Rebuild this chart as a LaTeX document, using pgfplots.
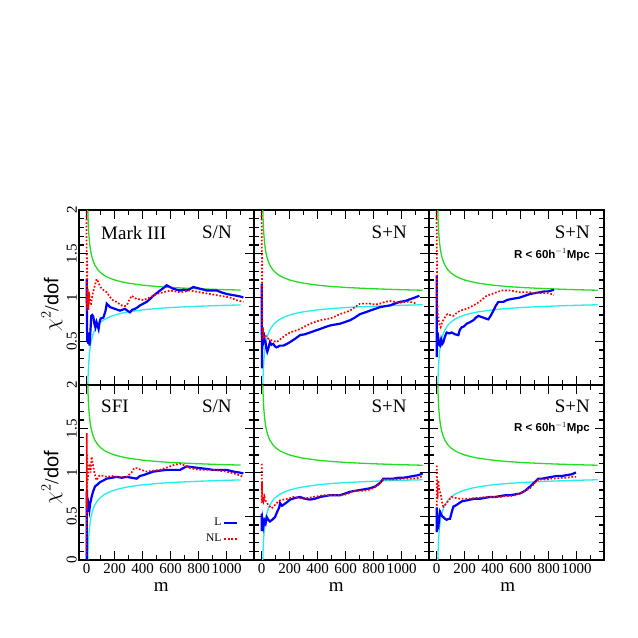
\documentclass[border=0pt]{standalone}
\usepackage{fontspec}
\setmainfont{Liberation Serif}
\setsansfont{Liberation Sans}
\usepackage{pgfplots}
\usepackage{pgfplotstable}
\pgfplotsset{compat=1.18}
\usepgfplotslibrary{groupplots}
\definecolor{grn}{HTML}{22DD22}
\definecolor{cyn}{HTML}{22EEEE}

\pgfplotsset{
  bl/.style={blue, line width=2.2pt},
  rd/.style={red, line width=1.7pt, dash pattern=on 1.7pt off 1.8pt},
  gr/.style={color=grn, line width=1.3pt, forget plot},
  cy/.style={color=cyn, line width=1.3pt, forget plot},
}

% 2 sigma band of chi^2/dof
\pgfplotstableread{
m y
7 2.069
8 2.000
9 1.943
10 1.894
12 1.816
15 1.730
20 1.632
25 1.566
30 1.516
40 1.447
50 1.400
60 1.365
80 1.316
100 1.283
130 1.248
160 1.224
200 1.200
250 1.179
300 1.163
400 1.141
500 1.126
600 1.115
700 1.107
800 1.100
900 1.094
1000 1.089
1100 1.085
1150 1.083
}\greentab
\pgfplotstableread{
m y
8 0.000
9 0.057
10 0.106
12 0.184
15 0.270
20 0.368
25 0.434
30 0.484
40 0.553
50 0.600
60 0.635
80 0.684
100 0.717
130 0.752
160 0.776
200 0.800
250 0.821
300 0.837
400 0.859
500 0.874
600 0.885
700 0.893
800 0.900
900 0.906
1000 0.911
1100 0.915
1150 0.917
}\cyantab

% Mark III, S/N
\pgfplotstableread{
m y
0 1.21
2 0.70
4 0.49
8 0.60
12 0.47
16 0.57
20 0.45
26 0.60
33 0.79
40 0.80
47 0.78
55 0.70
62 0.66
70 0.72
78 0.68
85 0.64
92 0.72
100 0.76
119 0.77
135 0.85
143 0.93
155 0.91
167 0.89
185 0.88
202 0.87
220 0.86
238 0.85
255 0.86
274 0.87
290 0.85
309 0.83
325 0.86
345 0.87
365 0.89
381 0.91
405 0.93
428 0.95
450 0.98
476 1.02
500 1.05
524 1.08
550 1.11
571 1.14
595 1.12
619 1.10
640 1.09
667 1.08
690 1.09
714 1.08
740 1.10
762 1.12
785 1.11
809 1.10
835 1.09
857 1.08
890 1.08
929 1.08
960 1.06
1000 1.04
1035 1.03
1071 1.02
1100 1.01
1119 1.00
}\aL
\pgfplotstableread{
m y
-2 2.10
0 1.40
1 0.85
3 1.45
5 0.90
8 1.10
12 0.86
16 1.00
19 1.02
24 0.95
30 0.91
38 1.00
45 1.06
52 1.10
59 1.14
65 1.18
71 1.21
77 1.20
83 1.17
95 1.13
107 1.10
125 1.08
143 1.06
160 1.02
179 0.98
195 0.96
214 0.95
230 0.93
250 0.91
270 0.90
286 0.91
300 0.96
321 1.02
340 1.00
357 0.98
380 0.98
405 0.97
430 0.99
452 1.00
475 1.02
500 1.04
525 1.05
547 1.06
570 1.07
595 1.08
630 1.07
667 1.06
700 1.07
738 1.08
775 1.07
809 1.06
845 1.05
881 1.04
915 1.03
952 1.02
990 1.01
1024 1.00
1070 0.97
1119 0.95
}\aNL

% Mark III, S+N
\pgfplotstableread{
m y
0 1.16
1 0.60
2 0.19
4 0.55
8 0.45
14 0.60
20 0.52
26 0.50
33 0.42
40 0.38
48 0.42
59 0.49
70 0.46
83 0.47
95 0.44
107 0.43
130 0.45
155 0.45
180 0.47
202 0.49
240 0.53
274 0.57
310 0.58
345 0.60
380 0.62
417 0.64
450 0.66
488 0.68
520 0.69
559 0.70
595 0.72
631 0.74
665 0.77
702 0.81
740 0.83
774 0.85
810 0.87
845 0.89
880 0.90
917 0.91
950 0.93
988 0.95
1025 0.96
1060 0.98
1095 1.00
1126 1.02
}\bL
\pgfplotstableread{
m y
-2 2.10
1 1.60
3 1.00
5 0.60
7 0.53
10 0.66
15 0.55
24 0.57
35 0.55
47 0.53
60 0.52
71 0.51
90 0.50
107 0.49
130 0.52
155 0.55
180 0.58
202 0.60
240 0.62
274 0.64
310 0.67
345 0.70
380 0.72
417 0.74
450 0.75
488 0.76
520 0.78
559 0.81
595 0.83
631 0.85
665 0.89
702 0.93
740 0.93
774 0.93
810 0.92
845 0.93
880 0.95
917 0.96
950 0.95
988 0.94
1025 0.95
1060 0.95
1085 0.94
1107 0.93
}\bNL

% Mark III, S+N, R < 60
\pgfplotstableread{
m y
0 1.25
1 0.32
3 0.60
6 0.48
12 0.53
18 0.46
24 0.45
32 0.52
40 0.47
48 0.49
58 0.55
71 0.60
90 0.59
107 0.60
130 0.58
155 0.57
165 0.63
179 0.66
195 0.67
214 0.70
240 0.72
262 0.74
280 0.77
298 0.79
315 0.78
333 0.77
350 0.76
369 0.75
385 0.79
405 0.85
420 0.90
440 0.95
458 0.95
476 0.95
500 0.97
524 0.98
560 0.99
595 1.00
630 1.02
667 1.04
700 1.05
738 1.06
770 1.07
798 1.07
820 1.08
838 1.09
}\cL
\pgfplotstableread{
m y
-2 2.10
1 1.50
4 0.95
8 0.80
12 0.79
16 0.72
22 0.68
28 0.66
35 0.70
42 0.73
52 0.75
64 0.79
76 0.81
95 0.80
119 0.79
140 0.82
167 0.85
190 0.86
214 0.87
250 0.90
286 0.93
320 0.97
357 1.02
393 1.04
428 1.06
464 1.08
494 1.08
524 1.08
560 1.07
595 1.06
630 1.06
667 1.06
700 1.05
738 1.05
770 1.05
798 1.05
820 1.04
838 1.03
}\cNL

% SFI, S/N
\pgfplotstableread{
m y
0 0.00
1 0.78
2 0.80
4 0.62
6 0.61
10 0.55
14 0.62
19 0.57
25 0.65
30 0.68
35 0.72
45 0.78
59 0.84
75 0.86
95 0.89
120 0.91
143 0.93
180 0.94
214 0.95
250 0.94
286 0.95
320 0.94
357 0.93
380 0.96
405 0.97
440 0.99
476 1.01
520 1.02
571 1.03
620 1.03
667 1.03
690 1.05
714 1.07
760 1.06
809 1.05
860 1.04
905 1.03
950 1.03
1000 1.03
1050 1.01
1090 1.00
1119 0.99
}\dL
\pgfplotstableread{
m y
-1 0.05
1 1.45
2 0.60
4 1.20
7 0.90
11 0.99
16 1.05
23 1.10
28 1.00
35 1.18
41 1.12
47 1.07
55 1.00
63 0.95
71 0.91
83 0.95
95 0.97
120 0.96
143 0.95
180 0.96
214 0.95
250 0.95
286 0.95
320 1.00
340 1.05
357 1.05
390 1.03
428 1.01
470 1.02
524 1.03
560 1.05
595 1.07
630 1.09
667 1.10
700 1.08
738 1.05
770 1.04
809 1.03
860 1.03
905 1.03
950 1.02
1000 1.01
1050 0.99
1090 0.97
1119 0.95
}\dNL

% SFI, S+N
\pgfplotstableread{
m y
0 0.33
1 0.53
3 0.38
6 0.45
12 0.38
20 0.45
28 0.42
36 0.49
47 0.46
59 0.44
75 0.46
95 0.49
110 0.55
125 0.60
131 0.65
145 0.62
155 0.63
180 0.66
202 0.69
240 0.71
274 0.72
310 0.70
345 0.69
380 0.70
417 0.72
450 0.73
488 0.74
520 0.74
559 0.74
595 0.76
631 0.78
665 0.79
702 0.80
740 0.81
774 0.82
810 0.84
845 0.88
869 0.93
900 0.93
940 0.93
975 0.94
1012 0.94
1050 0.95
1083 0.96
1120 0.97
1150 0.99
}\eL
\pgfplotstableread{
m y
0 1.10
1 0.65
2 0.90
4 0.65
8 0.75
14 0.68
20 0.72
24 0.69
35 0.66
47 0.63
59 0.61
71 0.59
90 0.62
107 0.65
130 0.68
155 0.69
190 0.70
226 0.72
260 0.71
298 0.70
330 0.71
369 0.72
405 0.73
440 0.74
475 0.74
512 0.74
548 0.74
583 0.74
620 0.76
655 0.79
690 0.79
726 0.79
760 0.80
798 0.82
835 0.86
869 0.92
900 0.92
940 0.92
975 0.92
1012 0.93
1050 0.93
1083 0.93
1120 0.94
1150 0.96
}\eNL

% SFI, S+N, R < 60
\pgfplotstableread{
m y
0 0.32
1 0.60
3 0.46
6 0.40
12 0.38
18 0.48
24 0.55
32 0.52
40 0.50
48 0.49
60 0.47
71 0.46
85 0.47
95 0.47
108 0.55
119 0.61
143 0.63
160 0.65
179 0.67
210 0.68
238 0.69
275 0.70
310 0.70
345 0.71
381 0.72
415 0.72
452 0.73
490 0.74
524 0.74
560 0.75
595 0.76
630 0.79
667 0.84
700 0.89
726 0.93
755 0.93
786 0.94
820 0.95
857 0.96
895 0.96
929 0.97
965 0.98
995 1.00
}\fL
\pgfplotstableread{
m y
0 1.08
1 0.61
3 0.95
6 0.70
12 0.91
18 0.80
28 0.76
38 0.66
48 0.61
60 0.63
71 0.65
90 0.69
107 0.72
135 0.71
167 0.70
200 0.70
238 0.70
275 0.71
310 0.71
345 0.72
381 0.72
415 0.72
452 0.72
490 0.73
524 0.73
560 0.74
595 0.76
630 0.79
667 0.82
700 0.88
726 0.92
755 0.92
786 0.92
820 0.93
857 0.93
895 0.94
929 0.94
965 0.95
995 0.95
}\fNL

\newcommand\tfont{\fontsize{19}{22}\selectfont}
\newcommand\rfont{\sffamily\bfseries\fontsize{11.5}{13}\selectfont}

\begin{document}
\begin{tikzpicture}
\begin{groupplot}[
  group style={group size=3 by 2, horizontal sep=0pt, vertical sep=0pt,
    xticklabels at=edge bottom, yticklabels at=edge left},
  scale only axis, width=175pt, height=175pt,
  xmin=-55, xmax=1195, ymin=0, ymax=2,
  xtick={0,200,400,600,800,1000},
  xticklabels={0,200,400,600,800,1000},
  minor xtick={100,300,500,700,900,1100},
  ytick={0,0.5,1,1.5,2},
  minor ytick={0.1,0.2,0.3,0.4,0.6,0.7,0.8,0.9,1.1,1.2,1.3,1.4,1.6,1.7,1.8,1.9},
  major tick length=9pt, minor tick length=5pt,
  tick style={black, line width=1.2pt},
  axis line style={line width=1.4pt},
  tick label style={font=\fontsize{15}{17}\selectfont},
  yticklabel style={rotate=90, anchor=south, inner sep=2pt},
  xticklabel style={inner sep=3pt},
  xlabel style={font=\fontsize{19}{22}\selectfont},
  ylabel style={font=\fontsize{20}{24}\selectfont},
  clip=true,
]
% ---- top row: Mark III
\nextgroupplot[yticklabels={{},0.5,1,1.5,2},
  ylabel={$\chi^2$/\textsf{dof}},
  ylabel style={at={(axis description cs:-0.155,0.46)}, anchor=center}]
\addplot[gr, restrict x to domain=-10:1120] table {\greentab};
\addplot[cy, restrict x to domain=-10:1120] table {\cyantab};
\addplot[bl] table {\aL};
\addplot[rd] table {\aNL};
\node[anchor=west, inner sep=0, font=\tfont] at (rel axis cs:0.126,0.871) {Mark III};
\node[anchor=east, inner sep=0, font=\tfont] at (rel axis cs:0.874,0.871) {S/N};

\nextgroupplot
\addplot[gr] table {\greentab};
\addplot[cy] table {\cyantab};
\addplot[bl] table {\bL};
\addplot[rd] table {\bNL};
\node[anchor=east, inner sep=0, font=\tfont] at (rel axis cs:0.874,0.871) {S+N};

\nextgroupplot
\addplot[gr] table {\greentab};
\addplot[cy] table {\cyantab};
\addplot[bl] table {\cL};
\addplot[rd] table {\cNL};
\node[anchor=east, inner sep=0, font=\tfont] at (rel axis cs:0.92,0.871) {S+N};
\node[anchor=east, inner sep=0, font=\rfont] at (rel axis cs:0.92,0.746) {R < 60h$^{-1}$Mpc};

% ---- bottom row: SFI
\nextgroupplot[yticklabels={0,0.5,1,1.5,2},
  xlabel={m}, xlabel style={at={(axis description cs:0.47,-0.155)}, anchor=center},
  ylabel={$\chi^2$/\textsf{dof}},
  ylabel style={at={(axis description cs:-0.155,0.47)}, anchor=center},
  legend plot pos=right, legend cell align=right,
  legend image code/.code={\draw[#1] (0pt,0pt) -- (13pt,0pt);},
  legend style={draw=none, fill=none, at={(rel axis cs:0.93,0.166)}, anchor=east,
    font=\fontsize{11.5}{13}\selectfont, row sep=3pt}]
\addplot[gr, restrict x to domain=-10:1120] table {\greentab};
\addplot[cy, restrict x to domain=-10:1120] table {\cyantab};
\addplot[bl] table {\dL};
\addlegendentry{L}
\addplot[rd] table {\dNL};
\addlegendentry{NL}
\node[anchor=west, inner sep=0, font=\tfont] at (rel axis cs:0.126,0.876) {SFI};
\node[anchor=east, inner sep=0, font=\tfont] at (rel axis cs:0.873,0.876) {S/N};

\nextgroupplot[xlabel={m}, xlabel style={at={(axis description cs:0.47,-0.155)}, anchor=center}]
\addplot[gr] table {\greentab};
\addplot[cy] table {\cyantab};
\addplot[bl] table {\eL};
\addplot[rd] table {\eNL};
\node[anchor=east, inner sep=0, font=\tfont] at (rel axis cs:0.873,0.876) {S+N};

\nextgroupplot[xlabel={m}, xlabel style={at={(axis description cs:0.45,-0.155)}, anchor=center}]
\addplot[gr] table {\greentab};
\addplot[cy] table {\cyantab};
\addplot[bl] table {\fL};
\addplot[rd] table {\fNL};
\node[anchor=east, inner sep=0, font=\tfont] at (rel axis cs:0.92,0.876) {S+N};
\node[anchor=east, inner sep=0, font=\rfont] at (rel axis cs:0.92,0.752) {R < 60h$^{-1}$Mpc};
\end{groupplot}
\pgfresetboundingbox
\path (group c1r2.south west) ++(-79pt,-78pt) rectangle ++(638pt,638pt);
\end{tikzpicture}
\end{document}
